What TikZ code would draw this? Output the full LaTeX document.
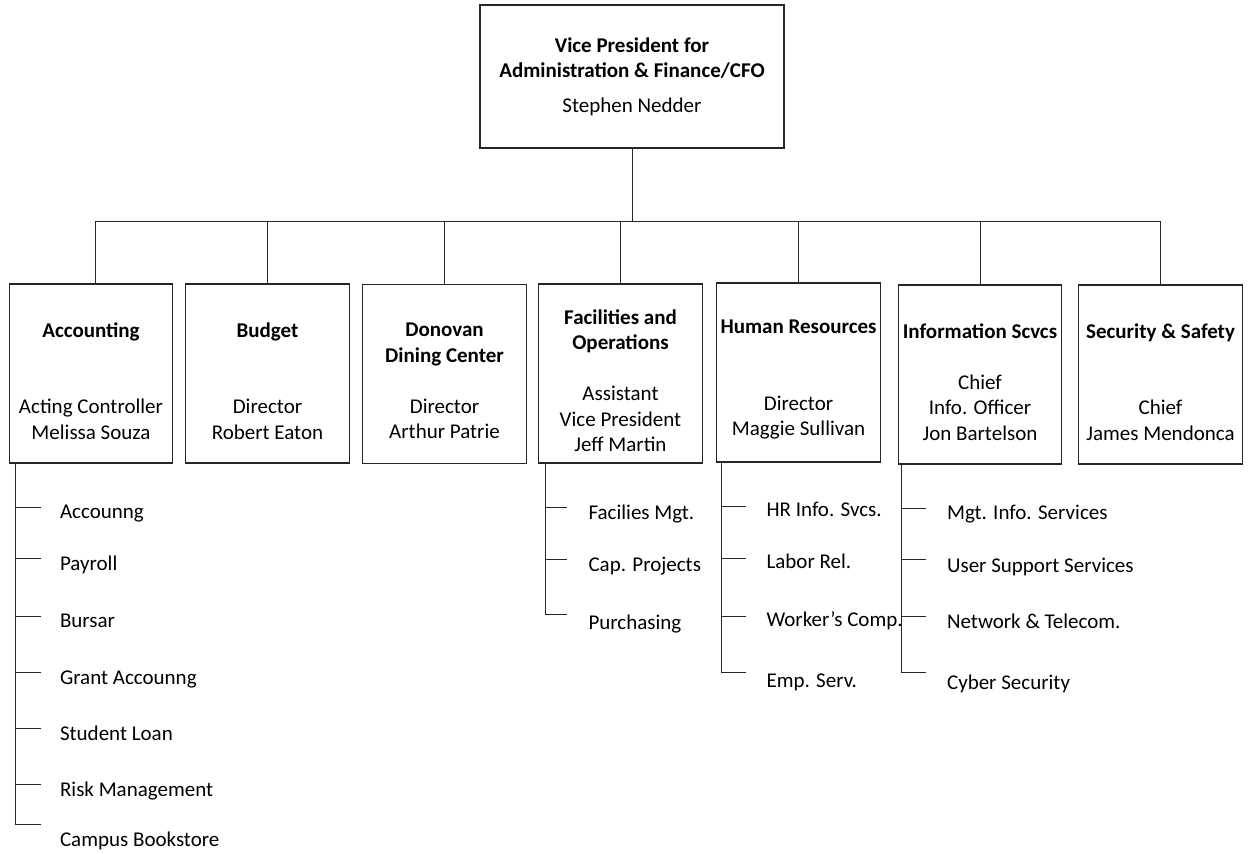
\documentclass[tikz,border=0pt]{standalone}
\usepackage{fontspec}
\setmainfont{Carlito}
\usepackage{tikz}

\begin{document}
\begin{tikzpicture}[x=0.5pt,y=-0.5pt,
  font=\fontsize{10.5}{12.75}\selectfont,
  wire/.style={draw=black!85, line width=0.5pt},
  unit/.style={draw=black!85, line width=0.6pt, minimum width=81.75pt, minimum height=89.5pt, inner sep=0pt},
  unittext/.style={align=center, inner sep=0pt},
  item/.style={anchor=base west, inner sep=0pt, xshift=22pt}]
\useasboundingbox (0,0) rectangle (1254,854);

% top box
\node[unit, minimum width=152pt, minimum height=71.5pt, align=center] (vp) at (632,76.5)
  {\textbf{Vice President for}\\\textbf{Administration \& Finance/CFO}\\[4.5pt]Stephen Nedder};

% departments
\node[unit] (acc) at (91,373.5) {};
\node[unit] (bud) at (267.5,373.5) {};
\node[unit] (don) at (444.5,374) {};
\node[unit] (fac) at (620.5,373.5) {};
\node[unit] (hr) at (798.5,372.5) {};
\node[unit] (inf) at (980,374.5) {};
\node[unit] (sec) at (1160.5,374.5) {};

\node[unittext] (acc-t) at ([yshift=-3.75pt]acc.center) {\textbf{Accounting}\\[25.5pt]Acting Controller\\Melissa Souza};
\node[unittext] (bud-t) at ([yshift=-3.75pt]bud.center) {\textbf{Budget}\\[25.5pt]Director\\Robert Eaton};
\node[unittext] (don-t) at ([yshift=-3.5pt]don.center) {\textbf{Donovan}\\\textbf{Dining Center}\\[12.75pt]Director\\Arthur Patrie};
\node[unittext] (fac-t) at ([yshift=-3.5pt]fac.center) {\textbf{Facilities and}\\\textbf{Operations}\\[12.75pt]Assistant\\Vice President\\Jeff Martin};
\node[unittext] (hr-t) at ([yshift=-3.75pt]hr.center) {\textbf{Human Resources}\\[25.5pt]Director\\Maggie Sullivan};
\node[unittext] (inf-t) at ([yshift=-3.75pt]inf.center) {\textbf{Information Scvcs}\\[12.75pt]Chief\\Info. Officer\\Jon Bartelson};
\node[unittext] (sec-t) at ([yshift=-3.75pt]sec.center) {\textbf{Security \& Safety}\\[25.5pt]Chief\\James Mendonca};

% bus
\coordinate (bus) at (0,222);
\coordinate (acc-top) at ([xshift=2pt]acc.north);
\draw[wire] (vp.south) -- (vp.south |- bus);
\draw[wire] (acc-top |- bus) -- (sec.north |- bus);
\draw[wire] (acc-top |- bus) -- (acc-top);
\foreach \u in {bud,don,fac,hr,inf,sec}
  \draw[wire] (\u.north |- bus) -- (\u.north);

% sub units
\coordinate (acc-r) at ([xshift=3.5pt]acc.south west);
\foreach \k/\s/\t [count=\i] in {508/519/Accounng, 559/571/Payroll, 617/628/Bursar,
  673/685/Grant Accounng, 729/741/Student Loan, 785/797/Risk Management, 825/847/Campus Bookstore}{
  \coordinate (acc-k\i) at (acc-r |- 0,\k);
  \node[item] (acc-s\i) at (acc-r |- 0,\s) {\t};
  \draw[wire] (acc-k\i) -- ([xshift=12.5pt]acc-k\i);
}
\draw[wire] (acc-r) -- (acc-k7);

\coordinate (fac-r) at ([xshift=3.5pt]fac.south west);
\foreach \k/\s/\t [count=\i] in {508/520/Facilies Mgt., 560/572/Cap. Projects, 615/630/Purchasing}{
  \coordinate (fac-k\i) at (fac-r |- 0,\k);
  \node[item, xshift=-0.5pt] (fac-s\i) at (fac-r |- 0,\s) {\t};
  \draw[wire] (fac-k\i) -- ([xshift=11pt]fac-k\i);
}
\draw[wire] (fac-r) -- (fac-k3);

\coordinate (hr-r) at ([xshift=2.5pt]hr.south west);
\foreach \k/\s/\t [count=\i] in {507/517/HR Info. Svcs., 559/569/Labor Rel., 617/627/Worker’s Comp., 673/688/Emp. Serv.}{
  \coordinate (hr-k\i) at (hr-r |- 0,\k);
  \node[item, xshift=0.5pt] (hr-s\i) at (hr-r |- 0,\s) {\t};
  \draw[wire] (hr-k\i) -- ([xshift=12.5pt]hr-k\i);
}
\draw[wire] (hr-r) -- (hr-k4);

\coordinate (inf-r) at ([xshift=2pt]inf.south west);
\foreach \k/\s/\t [count=\i] in {509/520/Mgt. Info. Services, 560/573/User Support Services, 617/629/Network \& Telecom., 673/690/Cyber Security}{
  \coordinate (inf-k\i) at (inf-r |- 0,\k);
  \node[item, xshift=0.5pt] (inf-s\i) at (inf-r |- 0,\s) {\t};
  \draw[wire] (inf-k\i) -- ([xshift=12pt]inf-k\i);
}
\draw[wire] (inf-r) -- (inf-k4);

\end{tikzpicture}
\end{document}
